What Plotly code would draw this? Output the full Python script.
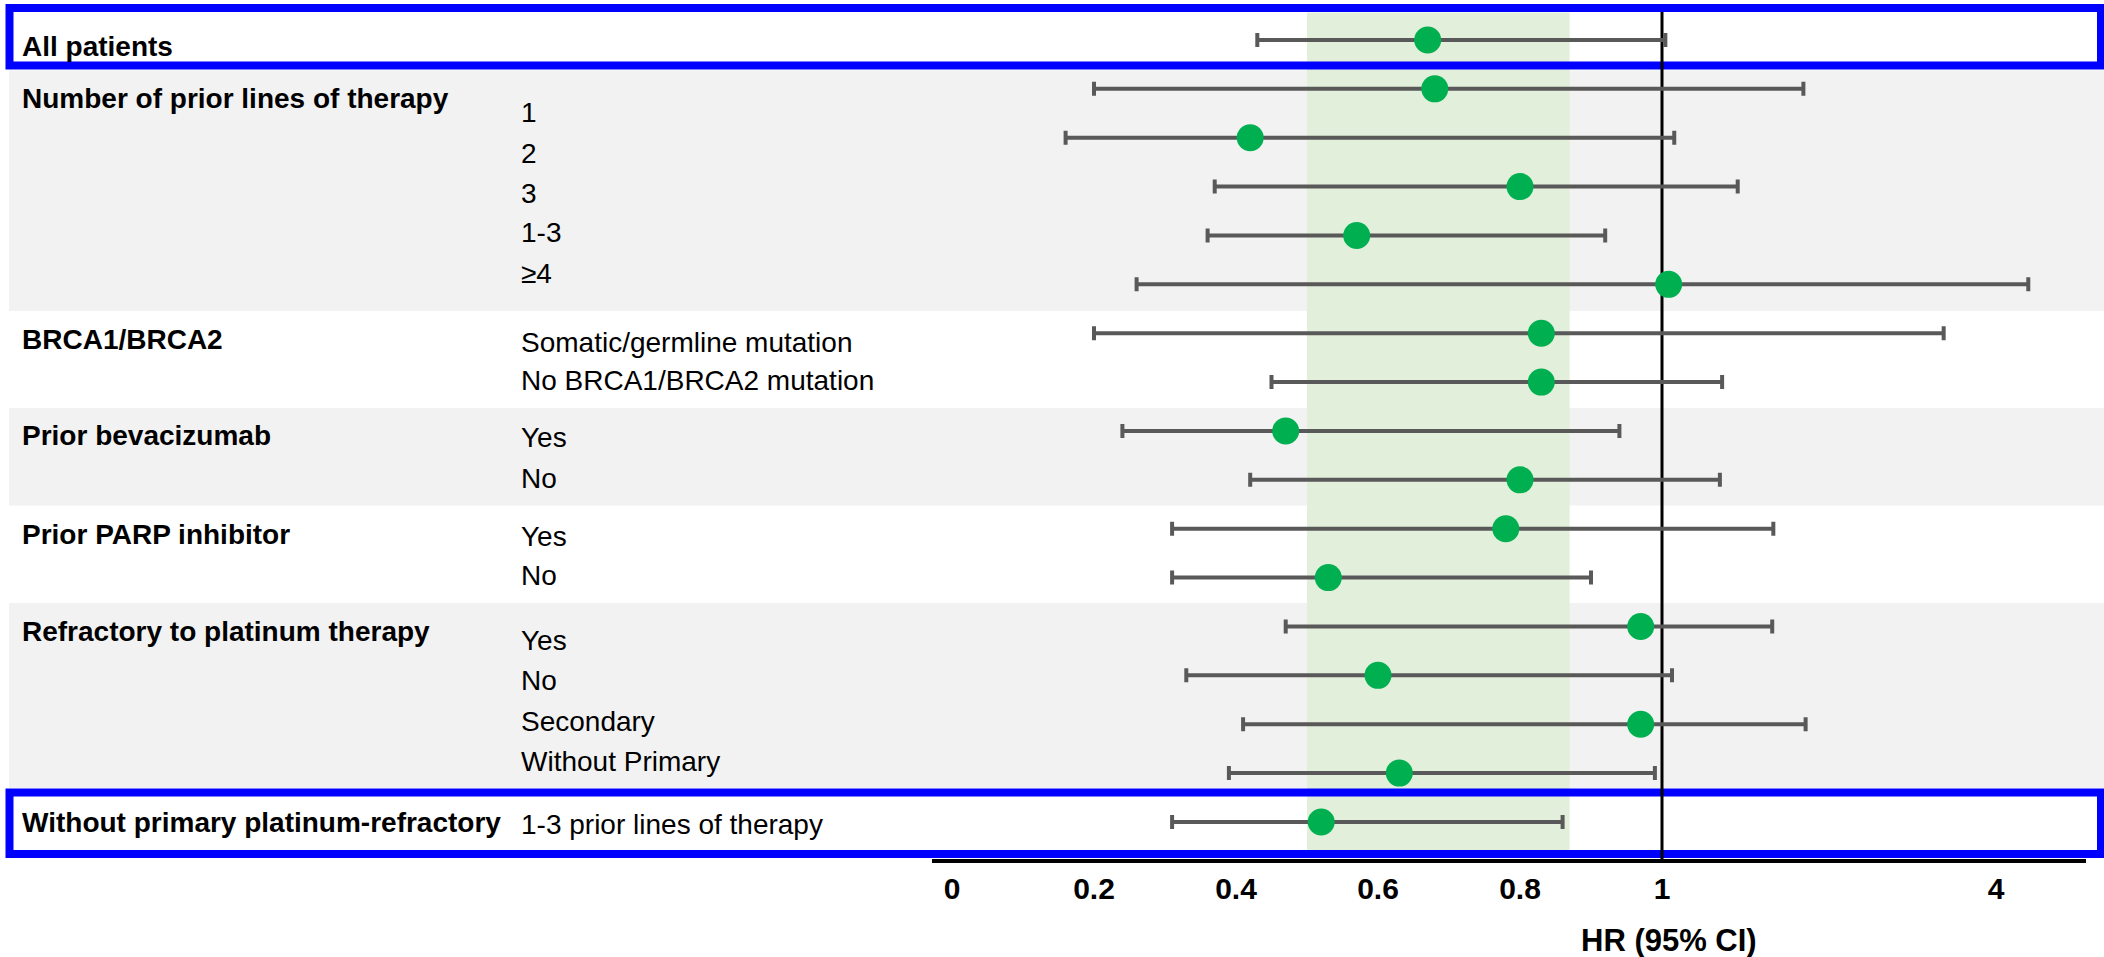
import numpy as np
import plotly.graph_objects as go

# ---------------- data ----------------
group_labels = ["All patients", "Number of prior lines of therapy", "BRCA1/BRCA2",
                "Prior bevacizumab", "Prior PARP inhibitor", "Refractory to platinum therapy",
                "Without primary platinum-refractory"]
sub_labels = ["", "1", "2", "3", "1-3", "≥4",
              "Somatic/germline mutation", "No BRCA1/BRCA2 mutation",
              "Yes", "No", "Yes", "No",
              "Yes", "No", "Secondary", "Without Primary",
              "1-3 prior lines of therapy"]
hr = [0.67, 0.68, 0.42, 0.80, 0.57, 1.06, 0.83, 0.83, 0.47, 0.80, 0.78, 0.53, 0.97, 0.60, 0.97, 0.63, 0.52]
ci_low = [0.43, 0.20, 0.16, 0.37, 0.36, 0.26, 0.20, 0.45, 0.24, 0.42, 0.31, 0.31, 0.47, 0.33, 0.41, 0.39, 0.31]
ci_high = [1.03, 2.27, 1.11, 1.68, 0.92, 4.29, 3.53, 1.54, 0.94, 1.52, 2.00, 0.90, 1.99, 1.09, 2.29, 0.99, 0.86]
tick_values = [0, 0.2, 0.4, 0.6, 0.8, 1, 4]
tick_labels = ["0", "0.2", "0.4", "0.6", "0.8", "1", "4"]
band_range = [0.5, 0.87]

# ---------------- layout constants (pixels) ----------------
W, H = 2104, 957
ROW0, ROWSTEP = 40.0, 48.875          # pixel y of first row, row spacing
AX_Y = 859                              # pixel y of the x axis line
X0PX, UPX = 952.0, 710.0                # pixel x of HR=0, pixels per HR unit (0..1 segment)
X4PX = 1996.0                           # pixel x of HR=4 (compressed segment 1..4)
SLOPE = ((X4PX - X0PX) / UPX - 1) / 3.0

def to_u(v):
    v = np.asarray(v, dtype=float)
    return np.where(v <= 1, v, 1 + (v - 1) * SLOPE)

def py(px):  # pixel y -> paper
    return 1 - px / H

def pxx(px):  # pixel x -> paper
    return px / W

group_label_px = [46.7, 98, 340, 435.5, 534, 631, 822]
sub_label_px = [None, 113, 153, 193, 233, 273, 342, 380, 437, 478, 536, 575, 640, 680, 721, 761, 824.5]
gray_bands_px = [(70.5, 311), (408, 505.5), (603, 788)]
boxes_px = [(8, 65.5), (792.5, 854)]

FONT = "Arial, Liberation Sans, sans-serif"
GREEN = "#00b050"
BAR = "#595959"

rows = np.arange(len(hr))
u_hr = to_u(hr)
u_lo = to_u(ci_low)
u_hi = to_u(ci_high)

fig = go.Figure()

# reference line at HR = 1
fig.add_trace(go.Scatter(
    x=[to_u(1).item(), to_u(1).item()],
    y=[(12 - ROW0) / ROWSTEP, (AX_Y - ROW0) / ROWSTEP],
    mode="lines", line=dict(color="black", width=3),
    hoverinfo="skip", showlegend=False))

# estimates with CI
fig.add_trace(go.Scatter(
    x=u_hr, y=rows, mode="markers",
    marker=dict(color=GREEN, size=27, line=dict(width=0)),
    error_x=dict(type="data", symmetric=False,
                 array=u_hi - u_hr, arrayminus=u_hr - u_lo,
                 color=BAR, thickness=4, width=7),
    customdata=np.stack([hr, ci_low, ci_high], axis=1),
    hovertemplate="HR %{customdata[0]} (%{customdata[1]}–%{customdata[2]})<extra></extra>",
    showlegend=False))

shapes = []
for a, b in gray_bands_px:
    shapes.append(dict(type="rect", xref="paper", yref="paper",
                       x0=pxx(9), x1=1, y0=py(b), y1=py(a),
                       fillcolor="#f2f2f2", line=dict(width=0), layer="below"))
# highlighted HR band
shapes.append(dict(type="rect", xref="x", yref="paper",
                   x0=band_range[0], x1=band_range[1], y0=py(850), y1=py(12.5),
                   fillcolor="#e2efda", line=dict(width=0), layer="below"))
for a, b in boxes_px:
    shapes.append(dict(type="rect", xref="paper", yref="paper",
                       x0=pxx(9.5), x1=pxx(2101), y0=py(b), y1=py(a),
                       fillcolor="rgba(0,0,0,0)", line=dict(color="#0000ff", width=8),
                       layer="below"))

annotations = []
for txt, ypx in zip(group_labels, group_label_px):
    annotations.append(dict(text=txt, xref="paper", yref="paper", x=pxx(20), y=py(ypx),
                            xanchor="left", yanchor="middle", showarrow=False,
                            font=dict(family=FONT, size=28, color="black", weight="bold")))
for txt, ypx in zip(sub_labels, sub_label_px):
    if not txt:
        continue
    annotations.append(dict(text=txt, xref="paper", yref="paper", x=pxx(519), y=py(ypx),
                            xanchor="left", yanchor="middle", showarrow=False,
                            font=dict(family=FONT, size=28, color="black")))
annotations.append(dict(text="HR (95% CI)", xref="paper", yref="paper", x=pxx(1669), y=py(940),
                        xanchor="center", yanchor="middle", showarrow=False,
                        font=dict(family=FONT, size=31, color="black", weight="bold")))

ax_left, ax_right = 932, 2086
fig.update_layout(
    width=W, height=H,
    margin=dict(l=0, r=0, t=0, b=0),
    paper_bgcolor="white", plot_bgcolor="rgba(0,0,0,0)",
    shapes=shapes, annotations=annotations,
    xaxis=dict(domain=[pxx(ax_left), pxx(ax_right)],
               range=[(ax_left - X0PX) / UPX, (ax_right - X0PX) / UPX],
               tickvals=to_u(tick_values).tolist(), ticktext=tick_labels,
               tickfont=dict(family=FONT, size=30, color="black", weight="bold"),
               showline=True, linecolor="black", linewidth=4,
               showgrid=False, zeroline=False, ticks="", fixedrange=True),
    yaxis=dict(domain=[py(AX_Y), 1],
               range=[(AX_Y - ROW0) / ROWSTEP, (0 - ROW0) / ROWSTEP],
               visible=False, showgrid=False, zeroline=False, fixedrange=True),
)

fig.write_html("out.html")
